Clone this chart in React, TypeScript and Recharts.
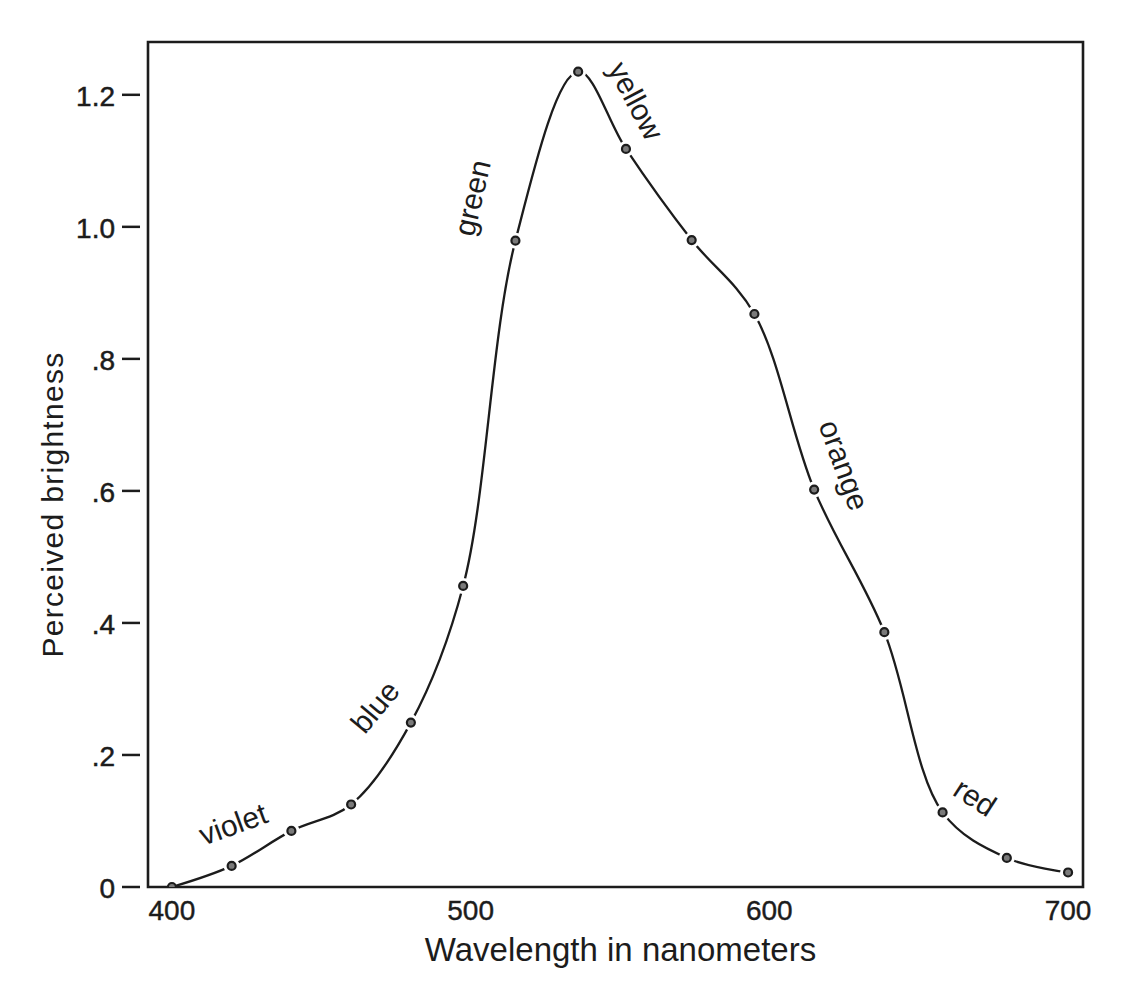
import { LineChart, Line, XAxis, YAxis, ReferenceArea, ReferenceDot } from 'recharts';

// measured off the curve
const wavelengths = [400, 420, 440, 460, 480, 497.5, 515, 536, 552, 574, 595, 615, 638.5, 658, 679.5, 700];
const brightness = [0, 0.032, 0.085, 0.125, 0.249, 0.456, 0.979, 1.235, 1.118, 0.98, 0.868, 0.602, 0.386, 0.113, 0.044, 0.022];

const xTicks = [400, 500, 600, 700];
const yTicks = [0, 0.2, 0.4, 0.6, 0.8, 1.0, 1.2];
const yTickLabels = ['0', '.2', '.4', '.6', '.8', '1.0', '1.2'];

// colour names written along the curve
const colourNames = ['violet', 'blue', 'green', 'yellow', 'orange', 'red'];
const colourAtWavelength = [420.5, 468, 500.5, 555.4, 625, 668.9];
const colourAtBrightness = [0.0955, 0.273, 1.044, 1.191, 0.639, 0.136];
const colourAngle = [-20, -50, -77, 62, 70, 33];

const X_DOMAIN: [number, number] = [392, 705];
const Y_DOMAIN: [number, number] = [0, 1.28];

const INK = '#1c1c1c';
const FONT = '"Liberation Sans", Arial, Helvetica, sans-serif';

const data = wavelengths.map((w, i) => ({ w, b: brightness[i] }));

// centripetal catmull-rom, closer to the hand drawn curve than monotone
function handCurve(context: any) {
  let pts: number[][] = [];
  const dist = (a: number[], b: number[]) => Math.hypot(a[0] - b[0], a[1] - b[1]);
  return {
    areaStart() {},
    areaEnd() {},
    lineStart() {
      pts = [];
    },
    point(x: number, y: number) {
      pts.push([+x, +y]);
    },
    lineEnd() {
      const n = pts.length;
      if (!n) return;
      context.moveTo(pts[0][0], pts[0][1]);
      for (let i = 0; i < n - 1; i++) {
        const p0 = pts[i - 1] || pts[i];
        const p1 = pts[i];
        const p2 = pts[i + 1];
        const p3 = pts[i + 2] || p2;
        const l01 = Math.sqrt(dist(p0, p1));
        const l12 = Math.sqrt(dist(p1, p2));
        const l23 = Math.sqrt(dist(p2, p3));
        let c1 = p1;
        let c2 = p2;
        if (l01 > 1e-6) {
          const a = 2 * l01 * l01 + 3 * l01 * l12 + l12 * l12;
          const b = 3 * l01 * (l01 + l12);
          c1 = [
            (p1[0] * a - p0[0] * l12 * l12 + p2[0] * l01 * l01) / b,
            (p1[1] * a - p0[1] * l12 * l12 + p2[1] * l01 * l01) / b,
          ];
        }
        if (l23 > 1e-6) {
          const a = 2 * l23 * l23 + 3 * l23 * l12 + l12 * l12;
          const b = 3 * l23 * (l23 + l12);
          c2 = [
            (p2[0] * a + p1[0] * l23 * l23 - p3[0] * l12 * l12) / b,
            (p2[1] * a + p1[1] * l23 * l23 - p3[1] * l12 * l12) / b,
          ];
        }
        context.bezierCurveTo(c1[0], c1[1], c2[0], c2[1], p2[0], p2[1]);
      }
    },
  };
}

function YTick({ x, y, payload }: any) {
  const idx = yTicks.indexOf(payload.value);
  return (
    <g>
      <line x1={x - 26} x2={x - 8} y1={y} y2={y} stroke={INK} strokeWidth={2.5} />
      <text x={x - 33} y={y} dy={11} textAnchor="end" fontSize={28} fill={INK} stroke={INK} strokeWidth={0.5} fontFamily={FONT}>
        {yTickLabels[idx]}
      </text>
    </g>
  );
}

function XTick({ x, y, payload }: any) {
  return (
    <text x={x} y={y} dy={33} textAnchor="middle" fontSize={28} fill={INK} stroke={INK} strokeWidth={0.4} fontFamily={FONT}>
      {payload.value}
    </text>
  );
}

function RingDot({ cx, cy, index }: any) {
  if (cx == null || cy == null) return null;
  return (
    <g key={index}>
      {index > 0 && <circle cx={cx} cy={cy} r={8} fill="#fff" />}
      <circle cx={cx} cy={cy} r={4} fill="#7a7a7a" stroke={INK} strokeWidth={2.2} />
    </g>
  );
}

function YTitle({ viewBox }: any) {
  const cx = viewBox.x + 44;
  const cy = viewBox.y + viewBox.height / 2 + 40;
  return (
    <text
      x={cx}
      y={cy}
      transform={`rotate(-90 ${cx} ${cy})`}
      textAnchor="middle"
      dominantBaseline="central"
      fontSize={30}
      letterSpacing={1.3}
      fill={INK}
      fontFamily={FONT}
    >
      Perceived brightness
    </text>
  );
}

export default function App() {
  return (
    <div style={{ margin: -8, width: 1132, height: 986, position: 'relative', background: '#dedede' }}>
      <div style={{ position: 'absolute', left: 5, top: 3, width: 1122, height: 983, background: '#fff' }} />
      <div style={{ position: 'absolute', left: 0, top: 0 }}>
        <LineChart width={1132} height={986} data={data} margin={{ top: 42, right: 49, left: 8, bottom: 19 }}>
          <XAxis
            type="number"
            dataKey="w"
            domain={X_DOMAIN}
            ticks={xTicks}
            allowDataOverflow
            axisLine={false}
            tickLine={false}
            tickSize={0}
            tickMargin={0}
            height={80}
            tick={<XTick />}
            label={{
              value: 'Wavelength in nanometers',
              position: 'insideBottom',
              offset: 6,
              dx: 5,
              fontSize: 33,
              fill: INK,
              fontFamily: FONT,
            }}
          />
          <YAxis
            type="number"
            domain={Y_DOMAIN}
            ticks={yTicks}
            allowDataOverflow
            axisLine={false}
            tickLine={false}
            tickSize={0}
            tickMargin={0}
            width={140}
            tick={<YTick />}
            label={<YTitle />}
          />
          <ReferenceArea
            x1={X_DOMAIN[0]}
            x2={X_DOMAIN[1]}
            y1={Y_DOMAIN[0]}
            y2={Y_DOMAIN[1]}
            fill="none"
            fillOpacity={0}
            stroke={INK}
            strokeWidth={2.6}
          />
          <Line
            type={handCurve as any}
            dataKey="b"
            stroke={INK}
            strokeWidth={2.3}
            dot={<RingDot />}
            activeDot={false}
            isAnimationActive={false}
          />
          {colourNames.map((name, i) => (
            <ReferenceDot
              key={name}
              x={colourAtWavelength[i]}
              y={colourAtBrightness[i]}
              r={0}
              shape={(p: any) => (
                <text
                  x={p.cx}
                  y={p.cy}
                  transform={`rotate(${colourAngle[i]} ${p.cx} ${p.cy})`}
                  textAnchor="middle"
                  dominantBaseline="central"
                  fontSize={30}
                  fill={INK}
                  fontFamily={FONT}
                >
                  {name}
                </text>
              )}
            />
          ))}
        </LineChart>
      </div>
    </div>
  );
}
